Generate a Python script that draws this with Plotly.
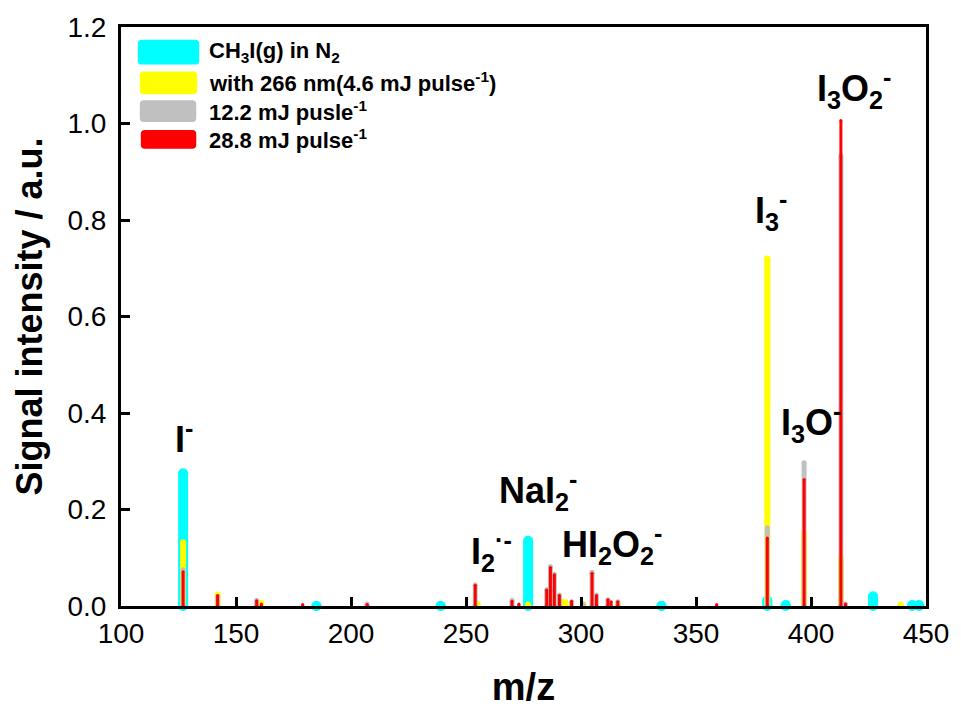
import plotly.graph_objects as go

# ---------------- data (m/z, signal intensity) ----------------
cyan_mz = [127, 185, 239, 277, 335, 381, 389, 427, 444, 447]
cyan_int = [0.275, 0.0, 0.0, 0.135, 0.0, 0.012, 0.002, 0.020, 0.002, 0.002]

yellow_mz = [127, 142, 161, 255, 277, 291.5, 293.3, 301, 316, 381, 397, 413, 439]
yellow_int = [0.132, 0.024, 0.006, 0.004, 0.003, 0.010, 0.008, 0.003, 0.004, 0.720, 0.152, 0.100, 0.003]

gray_mz = [127, 142, 159, 207, 254, 270, 285.1, 286.7, 288.4, 290.6, 295.9, 300.9,
           304.8, 306.7, 311.7, 316, 381, 397, 413, 415]
gray_int = [0.075, 0.020, 0.012, 0.004, 0.044, 0.012, 0.034, 0.082, 0.066, 0.023, 0.009, 0.004,
            0.070, 0.023, 0.013, 0.009, 0.162, 0.297, 0.933, 0.004]

red_mz = [127, 142, 159, 161, 179, 207, 254, 270, 273, 285.1, 286.7, 288.4, 290.6, 295.9,
          304.8, 306.7, 311.7, 313.1, 316, 359, 381, 397, 413, 415]
red_int = [0.071, 0.022, 0.011, 0.004, 0.003, 0.003, 0.043, 0.010, 0.004, 0.033, 0.080, 0.065, 0.022, 0.010,
           0.068, 0.022, 0.013, 0.009, 0.009, 0.003, 0.141, 0.262, 1.006, 0.004]

series_names = ["CH<sub>3</sub>I(g) in N<sub>2</sub>",
                "with 266 nm(4.6 mJ pulse<sup>-1</sup>)",
                "12.2 mJ pusle<sup>-1</sup>",
                "28.8 mJ pulse<sup>-1</sup>"]

x_ticks = [100, 150, 200, 250, 300, 350, 400, 450]
y_ticks = [0.0, 0.2, 0.4, 0.6, 0.8, 1.0, 1.2]

peak_labels = ["I<sup>-</sup>", "I<sub>2</sub><sup>·-</sup>", "NaI<sub>2</sub><sup>-</sup>",
               "HI<sub>2</sub>O<sub>2</sub><sup>-</sup>", "I<sub>3</sub><sup>-</sup>",
               "I<sub>3</sub>O<sup>-</sup>", "I<sub>3</sub>O<sub>2</sub><sup>-</sup>"]
label_mz = [127.6, 261.0, 281.5, 313.5, 382.5, 400.0, 418.5]
label_int = [0.350, 0.112, 0.240, 0.128, 0.820, 0.380, 1.072]

# ---------------- styling ----------------
colors = ["#00FFFF", "#FFFF00", "#C0C0C0", "#FF0000"]
widths = [10, 6, 5, 3]
FONT = "Liberation Sans, Arial, sans-serif"

W, H = 961, 713
L, R, T, B = 121, 27, 24, 104
PW, PH = W - L - R, H - T - B


def px2paper(px, py):
    return (px - L) / PW, (H - B - py) / PH


def stems(mz, inten):
    xs, ys = [], []
    for m, v in zip(mz, inten):
        xs += [m, m, None]
        ys += [0, v, None]
    return xs, ys


fig = go.Figure()
all_series = [(cyan_mz, cyan_int), (yellow_mz, yellow_int), (gray_mz, gray_int), (red_mz, red_int)]
for (mz, it), col, w, nm in zip(all_series, colors, widths, series_names):
    xs, ys = stems(mz, it)
    fig.add_trace(go.Scatter(x=xs, y=ys, mode="lines", line=dict(color=col, width=w),
                             showlegend=False, hoverinfo="skip", name=nm))
    fig.add_trace(go.Scatter(x=list(mz) + list(mz), y=list(it) + [0] * len(mz), mode="markers",
                             marker=dict(color=col, size=w, line=dict(width=0)),
                             cliponaxis=False, showlegend=False, hoverinfo="skip"))

# custom legend (rounded swatches + text)
sw_boxes = [(138, 37, 200, 62), (140, 69, 198, 92), (140, 98, 197, 120), (141, 128, 197, 147)]
txt_y = [49, 80, 109, 137]
shapes = []
annotations = []
for (x0, y0, x1, y1), col, nm, ty in zip(sw_boxes, colors, series_names, txt_y):
    r = 4
    path = (f"M {x0 + r},{y0} L {x1 - r},{y0} Q {x1},{y0} {x1},{y0 + r} L {x1},{y1 - r} "
            f"Q {x1},{y1} {x1 - r},{y1} L {x0 + r},{y1} Q {x0},{y1} {x0},{y1 - r} "
            f"L {x0},{y0 + r} Q {x0},{y0} {x0 + r},{y0} Z")
    out = []
    for t in path.split():
        if "," in t:
            a, b = t.split(",")
            u, v = px2paper(float(a), float(b))
            out.append(f"{u:.5f},{v:.5f}")
        else:
            out.append(t)
    shapes.append(dict(type="path", xref="paper", yref="paper", path=" ".join(out),
                       fillcolor=col, line=dict(width=0), layer="above"))
    u, v = px2paper(208, ty)
    annotations.append(dict(xref="paper", yref="paper", x=u, y=v, xanchor="left", yanchor="middle",
                            text=f"<b>{nm}</b>", showarrow=False,
                            font=dict(family=FONT, size=22, color="black")))

for t, xm, yv in zip(peak_labels, label_mz, label_int):
    annotations.append(dict(xref="x", yref="y", x=xm, y=yv, text=f"<b>{t}</b>", showarrow=False,
                            xanchor="center", yanchor="middle",
                            font=dict(family=FONT, size=36, color="black")))

axis_common = dict(showline=True, linewidth=3, linecolor="black", mirror=True,
                   ticks="inside", ticklen=9, tickwidth=3, tickcolor="black",
                   showgrid=False, zeroline=False,
                   tickfont=dict(family=FONT, size=28, color="black"))

fig.update_layout(
    width=W, height=H,
    margin=dict(l=L, r=R, t=T, b=B, pad=0),
    paper_bgcolor="white", plot_bgcolor="white",
    showlegend=False,
    xaxis=dict(range=[100, 450], tickvals=x_ticks, ticktext=[str(v) for v in x_ticks],
               title=dict(text="<b>m/z</b>", font=dict(family=FONT, size=38, color="black"), standoff=26),
               **axis_common),
    yaxis=dict(range=[0, 1.2], tickvals=y_ticks, ticktext=[f"{v:.1f}" for v in y_ticks],
               ticklabelstandoff=6,
               title=dict(text="<b>Signal intensity / a.u.</b>", font=dict(family=FONT, size=36, color="black"),
                          standoff=14),
               **axis_common),
    shapes=shapes,
    annotations=annotations,
)

fig.write_html("out.html")
